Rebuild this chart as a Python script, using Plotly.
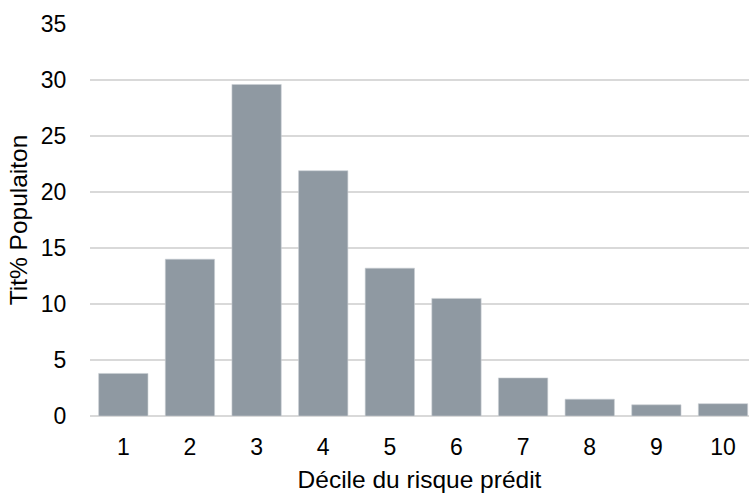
import plotly.graph_objects as go

# Population share by predicted-risk decile
deciles = ["1", "2", "3", "4", "5", "6", "7", "8", "9", "10"]
population_pct = [3.8, 14.0, 29.6, 21.9, 13.2, 10.5, 3.4, 1.5, 1.0, 1.1]
y_ticks = [0, 5, 10, 15, 20, 25, 30, 35]

x_positions = list(range(1, len(deciles) + 1))

fig = go.Figure(
    go.Bar(
        x=x_positions,
        y=population_pct,
        marker=dict(color="#8f99a2", line=dict(color="#c9ced3", width=0.6)),
        width=0.74,
        hoverinfo="skip",
    )
)

font_family = "Liberation Sans, Arial, sans-serif"
tick_size = 23
title_size = 24.5

fig.update_layout(
    width=749,
    height=493,
    margin=dict(l=90, r=0, t=24, b=77),
    paper_bgcolor="white",
    plot_bgcolor="white",
    showlegend=False,
    font=dict(family=font_family, size=tick_size, color="#000000"),
    xaxis=dict(
        tickmode="array",
        tickvals=x_positions,
        ticktext=deciles,
        range=[0.5, 10.39],
        showgrid=False,
        zeroline=False,
        showline=False,
        ticks="outside",
        ticklen=10,
        tickcolor="rgba(0,0,0,0)",
        tickfont=dict(size=tick_size),
        title=dict(text="Décile du risque prédit", font=dict(size=title_size), standoff=13),
    ),
    yaxis=dict(
        tickmode="array",
        tickvals=y_ticks,
        range=[0, 35],
        showgrid=True,
        gridcolor="#d9d9d9",
        gridwidth=1.5,
        zeroline=True,
        zerolinecolor="#d9d9d9",
        zerolinewidth=1.5,
        showline=False,
        ticks="outside",
        ticklen=18,
        tickcolor="rgba(0,0,0,0)",
        tickfont=dict(size=tick_size),
        title=dict(text="Tit% Populaiton", font=dict(size=title_size), standoff=6),
    ),
)

fig.write_html("out.html")
